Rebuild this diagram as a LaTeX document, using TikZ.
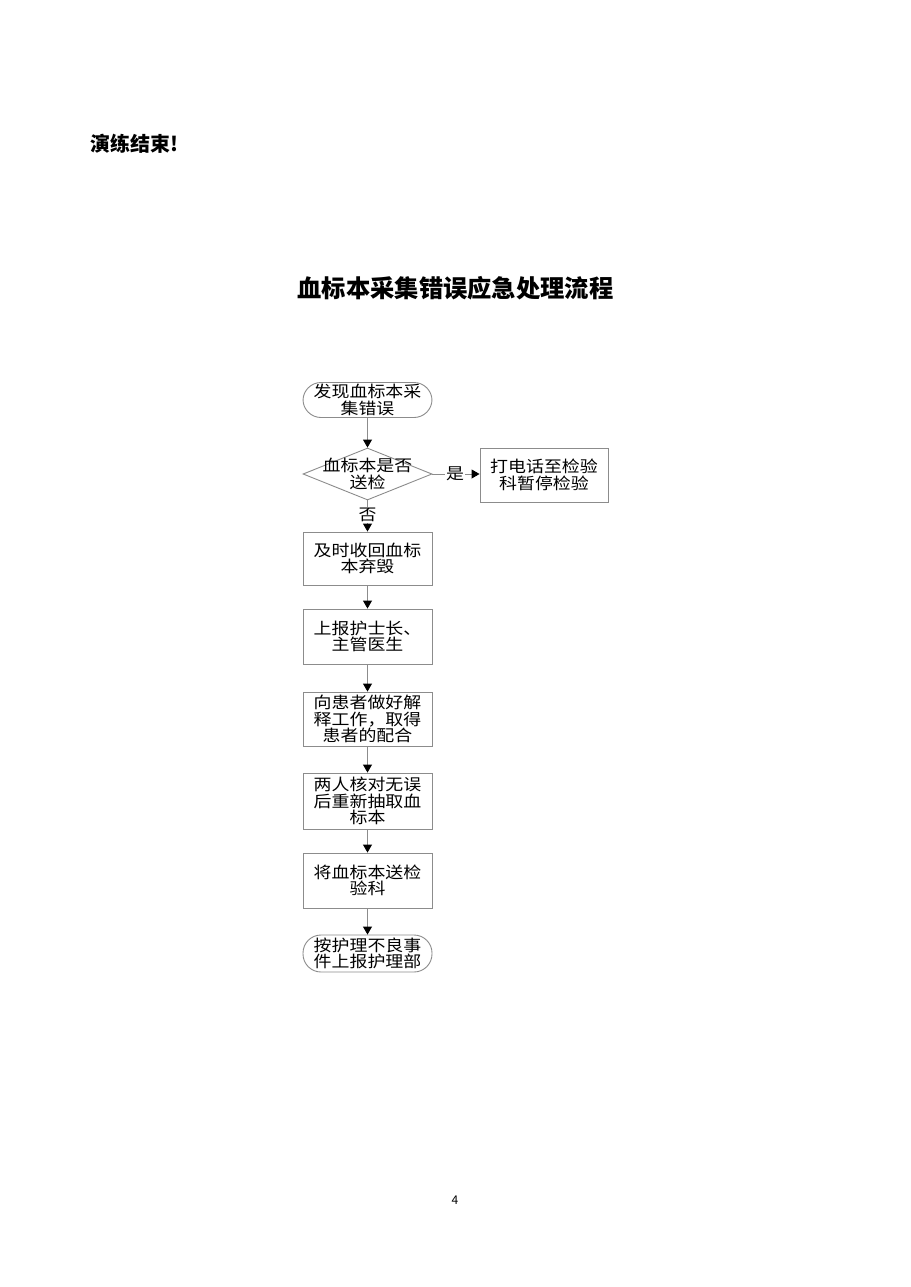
\documentclass[tikz,border=0pt]{standalone}
\usepackage{fontspec}
\usetikzlibrary{shapes.geometric,arrows.meta}
\newfontfamily\cjk[FakeStretch=1.12]{Noto Sans CJK SC}
\newfontfamily\cjkhead{Noto Sans CJK SC}
\definecolor{linegray}{RGB}{140,140,140}
\tikzset{
  box/.style={draw=linegray, line width=0.9pt, minimum width=129pt, inner sep=0pt, align=center,
              font=\cjk\fontsize{16}{16.5}\selectfont, text=black},
  term/.style={box, rounded corners=18pt},
  dec/.style={diamond, draw=linegray, line width=0.9pt, minimum width=129pt, minimum height=52pt, inner sep=0pt},
  txt/.style={align=center, inner sep=0pt, font=\cjk\fontsize{16}{16.5}\selectfont},
  lbl/.style={fill=white, inner sep=1pt, font=\cjk\fontsize{16}{16.5}\selectfont},
  arr/.style={draw=linegray, line width=0.9pt, -{Triangle[color=black,width=9pt,length=8pt]}},
}
\begin{document}
\begin{tikzpicture}[x=1pt,y=-1pt]
\useasboundingbox[fill=white] (0,0) rectangle (910,1287);
\node[anchor=west, font=\cjkhead\bfseries\fontsize{20}{22}\selectfont] (done) at (87,144) {演练结束!};
\node[font=\cjkhead\bfseries\fontsize{24.3}{27}\selectfont] (title) at (455.5,288) {血标本采集错误应急处理流程};
\node[box, term, minimum height=35pt] (s) at (367.5,400) {发现血标本采\\集错误};
\node[dec] (d) at (367.5,474) {};
\node[txt] (dt) at (d) {血标本是否\\送检};
\node[box, minimum width=128pt, minimum height=54pt] (r) at (544,475) {打电话至检验\\科暂停检验};
\node[box, minimum height=53pt] (b3) at (367.5,558.5) {及时收回血标\\本弃毁};
\node[box, minimum height=55pt] (b4) at (367.5,636.5) {上报护士长、\\主管医生};
\node[box, minimum height=54pt] (b5) at (367.5,719) {向患者做好解\\释工作，取得\\患者的配合};
\node[box, minimum height=56pt] (b6) at (367.5,801) {两人核对无误\\后重新抽取血\\标本};
\node[box, minimum height=55pt] (b7) at (367.5,880.5) {将血标本送检\\验科};
\node[box, term, minimum height=37pt] (e) at (367.5,953.5) {按护理不良事\\件上报护理部};
\draw[arr] (s) -- (d);
\draw[arr] (d.east) -- (r.west |- d.east) node[lbl, pos=0.48] (yes) {是};
\draw[arr] (d) -- (b3) node[lbl, pos=0.47] (no) {否};
\draw[arr] (b3) -- (b4);
\draw[arr] (b4) -- (b5);
\draw[arr] (b5) -- (b6);
\draw[arr] (b6) -- (b7);
\draw[arr] (b7) -- (e);
\node[font=\cjkhead\fontsize{12}{14}\selectfont] (pg) at (455,1200) {4};
\end{tikzpicture}
\end{document}
